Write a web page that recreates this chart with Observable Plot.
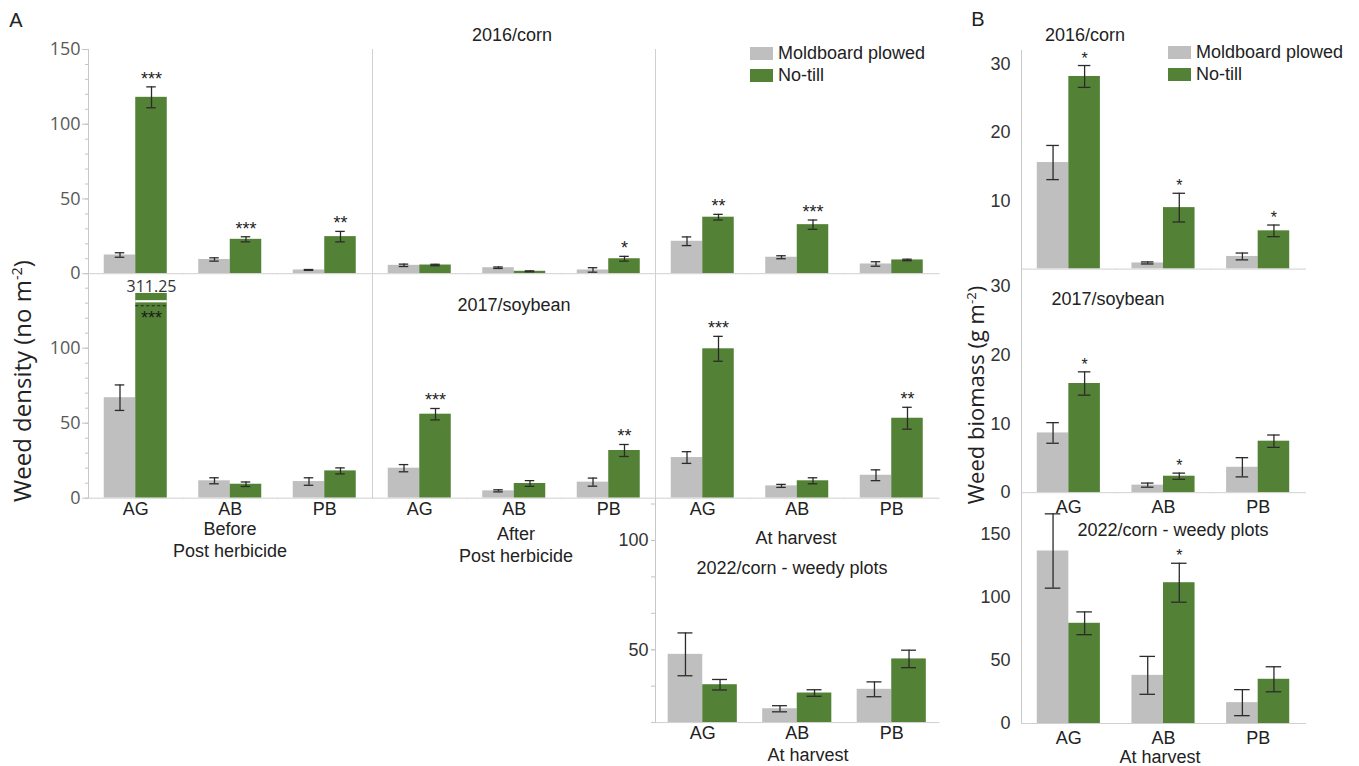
<!DOCTYPE html>
<html>
<head>
<meta charset="utf-8">
<script src="https://cdn.jsdelivr.net/npm/d3@7"></script>
<script src="https://cdn.jsdelivr.net/npm/@observablehq/plot@0.6"></script>
<style>
  body { margin: 0; background: #fff; }
  #fig { position: relative; width: 1359px; height: 766px; overflow: hidden;
         font-family: "Liberation Sans", Arial, sans-serif; color: #222; background: #fff; }
  #fig > * { position: absolute; }
  .lbl { white-space: nowrap; transform: translate(-50%, -50%); font-size: 18px;
         line-height: 22px; text-align: center; }
  .ylab { white-space: nowrap; font-family: "Open Sans", sans-serif;
          transform: translate(-50%, -50%) rotate(-90deg); }
  .ylab sup { font-size: 0.6em; }
  .lg-swatch svg { margin-right: 5px !important; }
</style>
</head>
<body>
<div id="fig"></div>
<script>
// Categories, treatments and colours
const categories = ["AG", "AB", "PB"];
const tillages = ["Moldboard plowed", "No-till"];
const tillageColors = ["#bfbfbf", "#538135"];

// Weed density (no m-2), 2016 corn: means and standard errors for AG, AB, PB
const d16BeforeMP = [12.5, 9.5, 2.5];
const d16BeforeMPse = [1.5, 1.1, 0.3];
const d16BeforeNT = [118, 23, 24.8];
const d16BeforeNTse = [7, 1.7, 3.5];
const d16BeforeSig = ["***", "***", "**"];

const d16AfterMP = [5.6, 4.0, 2.5];
const d16AfterMPse = [0.8, 0.5, 1.5];
const d16AfterNT = [5.8, 1.6, 10];
const d16AfterNTse = [0.5, 0.3, 1.6];
const d16AfterSig = ["", "", "*"];

const d16HarvestMP = [21.7, 11, 6.5];
const d16HarvestMPse = [2.9, 1, 1.5];
const d16HarvestNT = [37.8, 32.8, 9.2];
const d16HarvestNTse = [1.9, 3.1, 0.5];
const d16HarvestSig = ["**", "***", ""];

// Weed density (no m-2), 2017 soybean
const d17BeforeMP = [67, 11.6, 11.1];
const d17BeforeMPse = [8.5, 2, 2.5];
const d17BeforeNT = [311.25, 9.3, 18.2];
const d17BeforeNTse = [null, 1.5, 2];
const d17BeforeSig = ["***", "", ""];

const d17AfterMP = [20, 4.9, 10.7];
const d17AfterMPse = [2.4, 0.7, 2.7];
const d17AfterNT = [56, 9.8, 31.8];
const d17AfterNTse = [3.8, 1.9, 4];
const d17AfterSig = ["***", "", "**"];

const d17HarvestMP = [27.1, 8.2, 15.3];
const d17HarvestMPse = [3.9, 1, 3.6];
const d17HarvestNT = [99.6, 11.6, 53.3];
const d17HarvestNTse = [8.3, 2, 7.3];
const d17HarvestSig = ["***", "", "**"];

// Weed density (no m-2), 2022 corn weedy plots at harvest
const d22MP = [47.9, 23.0, 31.9];
const d22MPse = [9.8, 1.4, 3.4];
const d22NT = [34.0, 30.2, 45.8];
const d22NTse = [2.4, 1.5, 4.0];

// Weed biomass (g m-2)
const b16MP = [15.6, 0.9, 1.85];
const b16MPse = [2.5, 0.15, 0.5];
const b16NT = [28.2, 9.0, 5.6];
const b16NTse = [1.6, 2.1, 0.85];
const b16Sig = ["*", "*", "*"];

const b17MP = [8.7, 1.1, 3.7];
const b17MPse = [1.5, 0.3, 1.4];
const b17NT = [15.9, 2.4, 7.5];
const b17NTse = [1.7, 0.45, 0.9];
const b17Sig = ["*", "*", ""];

const b22MP = [136.5, 38.1, 16.5];
const b22MPse = [29.4, 15, 10.3];
const b22NT = [79.3, 111.4, 35];
const b22NTse = [9, 15.4, 9.9];
const b22Sig = ["", "*", ""];

// Axis ticks
const densityTicks2016 = [0, 50, 100, 150];
const densityMinor2016 = [0, 10, 20, 30, 40, 50, 60, 70, 80, 90, 100, 110, 120, 130, 140, 150];
const densityTicks2017 = [0, 50, 100];
const densityMinor2017 = [0, 10, 20, 30, 40, 50, 60, 70, 80, 90, 100, 110, 120, 130, 140];
const densityTicks2022 = [50, 100];
const densityMinor2022 = [16.67, 33.33, 50, 66.67, 83.33, 100, 116.67];
const biomassTicks2016 = [10, 20, 30];
const biomassTicks2017 = [0, 10, 20, 30];
const biomassTicks2022 = [0, 50, 100, 150];

// The 2017 AG no-till bar is drawn with a broken axis
const breakCap = 136.5;
const breakGapAt = 131.3;
const breakDashAt = 128.3;

const fig = document.getElementById("fig");

function rows(mp, mpSe, nt, ntSe, sig = []) {
  return categories.flatMap((c, i) => [
    {category: c, tillage: tillages[0], value: mp[i], se: mpSe[i], sig: ""},
    {category: c, tillage: tillages[1], value: nt[i], se: ntSe[i], sig: sig[i] ?? ""}
  ]);
}

function place(node, x, y) {
  node.style.position = "absolute";
  node.style.left = `${x}px`;
  node.style.top = `${y}px`;
  fig.appendChild(node);
}

function label(html, x, y, cls = "lbl", style = "") {
  const div = document.createElement("div");
  div.className = cls;
  div.innerHTML = html;
  div.style.cssText = style;
  place(div, x, y);
}

const M = {left: 70, right: 14, top: 40, bottom: 45};
const sansA = "'Open Sans', 'Noto Sans', sans-serif";
const sansB = "'Liberation Sans', Arial, sans-serif";

// vertical axis line, drawn once on the left edge of the leftmost facet
const axisLine = (stroke = "#c8c8c8") => Plot.frame({anchor: "left", facetAnchor: "left", stroke});

function densityAxis(major, minor) {
  return [
    axisLine(),
    Plot.axisY({ticks: minor, tickSize: 3, tickFormat: () => "", stroke: "#c4c4c4", label: null}),
    Plot.axisY({ticks: major, tickSize: 6, tickPadding: 2, stroke: "#c4c4c4",
                fill: "#595959", fontSize: 18, fontFamily: sansA, label: null})
  ];
}
function density2022Axis() {
  return [
    axisLine(),
    Plot.axisY({ticks: densityMinor2022, tickSize: 4, tickFormat: () => "", stroke: "#c4c4c4", label: null}),
    Plot.axisY({ticks: densityTicks2022, tickSize: 4, tickPadding: 3, stroke: "#c4c4c4",
                fill: "#333", fontSize: 18, fontFamily: sansB, label: null})
  ];
}
const separator = () => [axisLine("#d0d0d0")];
function biomassAxis(major) {
  return [
    axisLine(),
    Plot.axisY({ticks: major, tickSize: 0, tickPadding: 11,
                fill: "#333", fontSize: 18, fontFamily: sansB, label: null})
  ];
}

function barPanel({data, left, right, top, bottom, yDomain, axes = [], yCap = Infinity,
                   paddingOuter = 0.5, capInset = 11, starSize = 18, starDy = -8,
                   xLabels = false, labelPad = 4}) {
  const shown = data.filter(d => d.value <= yCap);
  const errs = shown.filter(d => d.se != null);
  const broken = data.filter(d => d.value > yCap);
  const pos = {fx: "category", x: "tillage"};
  const ebar = {...pos, stroke: "#2b2b2b", strokeWidth: 1.3};
  const svg = Plot.plot({
    width: right - left + M.left + M.right,
    height: bottom - top + M.top + M.bottom,
    marginLeft: M.left, marginRight: M.right, marginTop: M.top, marginBottom: M.bottom,
    fx: {domain: categories, padding: 0, round: false, axis: null, label: null},
    x: {domain: tillages, paddingInner: 0, paddingOuter, round: false, axis: null},
    y: {domain: yDomain, axis: null},
    color: {domain: tillages, range: tillageColors},
    style: {background: "transparent", overflow: "visible", fontFamily: sansB, color: "#222"},
    marks: [
      ...axes,
      Plot.frame({anchor: "bottom", stroke: "#d0d0d0"}),
      Plot.barY(data, {...pos, y: d => Math.min(d.value, yCap), fill: "tillage", clip: true}),
      Plot.ruleX(errs, {...ebar, y1: d => d.value - d.se, y2: d => d.value + d.se}),
      Plot.tickY(errs, {...ebar, y: d => d.value + d.se, insetLeft: capInset, insetRight: capInset}),
      Plot.tickY(errs, {...ebar, y: d => d.value - d.se, insetLeft: capInset, insetRight: capInset}),
      Plot.text(shown.filter(d => d.sig), {...pos, y: d => d.value + d.se, text: "sig", dy: starDy,
                                           fontSize: starSize, fill: "#222"}),
      // broken bar: gap, dashed break line, value label and significance inside the bar
      Plot.tickY(broken, {...pos, y: () => breakGapAt, stroke: "white", strokeWidth: 2.2}),
      Plot.tickY(broken, {...pos, y: () => breakDashAt, stroke: "#222", strokeWidth: 1.1, strokeDasharray: "3,2.5"}),
      Plot.text(broken, {...pos, y: () => yCap, text: d => d.value.toFixed(2), dy: -7,
                         fontFamily: sansA, fontSize: 16, fill: "#333"}),
      Plot.text(broken.filter(d => d.sig), {...pos, y: () => yCap, text: "sig", dy: 24.5,
                                            fontSize: starSize, fill: "#1a1a1a"}),
      xLabels ? Plot.axisFx({anchor: "bottom", tickSize: 0, tickPadding: labelPad, fontSize: 18,
                             fontFamily: sansB, fill: "#222", label: null}) : null
    ]
  });
  place(svg, left - M.left, top - M.top);
}

function legend(x, y) {
  const lg = Plot.legend({
    color: {type: "ordinal", domain: tillages, range: tillageColors, legend: "swatches"},
    columns: 1, swatchWidth: 23, swatchHeight: 13, className: "lg",
    style: {fontSize: "18px", fontFamily: sansB, color: "#222", background: "transparent"}
  });
  place(lg, x, y);
}

// ---- A: weed density ----
const rowA1 = {top: 48.6, bottom: 272.8, yDomain: [0, 150]};
barPanel({...rowA1, left: 88, right: 371.5, data: rows(d16BeforeMP, d16BeforeMPse, d16BeforeNT, d16BeforeNTse, d16BeforeSig),
          axes: densityAxis(densityTicks2016, densityMinor2016)});
barPanel({...rowA1, left: 371.5, right: 655, data: rows(d16AfterMP, d16AfterMPse, d16AfterNT, d16AfterNTse, d16AfterSig),
          axes: separator()});
barPanel({...rowA1, left: 655, right: 938.5, data: rows(d16HarvestMP, d16HarvestMPse, d16HarvestNT, d16HarvestNTse, d16HarvestSig),
          axes: separator()});

const rowA2 = {top: 272.8, bottom: 497.5, yDomain: [0, 149.8], xLabels: true, labelPad: 4};
barPanel({...rowA2, left: 88, right: 371.5, yCap: breakCap,
          data: rows(d17BeforeMP, d17BeforeMPse, d17BeforeNT, d17BeforeNTse, d17BeforeSig),
          axes: densityAxis(densityTicks2017, densityMinor2017)});
barPanel({...rowA2, left: 371.5, right: 655, data: rows(d17AfterMP, d17AfterMPse, d17AfterNT, d17AfterNTse, d17AfterSig),
          axes: separator()});
barPanel({...rowA2, left: 655, right: 938.5, data: rows(d17HarvestMP, d17HarvestMPse, d17HarvestNT, d17HarvestNTse, d17HarvestSig),
          axes: separator()});

barPanel({left: 655, right: 938.5, top: 497.5, bottom: 721.6, yDomain: [16.67, 119.2],
          paddingOuter: 0.367, capInset: 9.8, xLabels: true, labelPad: 4,
          data: rows(d22MP, d22MPse, d22NT, d22NTse), axes: density2022Axis()});

// ---- B: weed biomass ----
const colB = {left: 1021, right: 1305, capInset: 9.5, starSize: 16, starDy: -7};
barPanel({...colB, top: 49.7, bottom: 268.3, yDomain: [0, 32],
          data: rows(b16MP, b16MPse, b16NT, b16NTse, b16Sig), axes: biomassAxis(biomassTicks2016)});
barPanel({...colB, top: 268.3, bottom: 492.5, yDomain: [0, 32.65], xLabels: true, labelPad: 8,
          data: rows(b17MP, b17MPse, b17NT, b17NTse, b17Sig), axes: biomassAxis(biomassTicks2017)});
barPanel({...colB, top: 492.5, bottom: 722.5, yDomain: [0, 182], capInset: 8, xLabels: true, labelPad: 8,
          data: rows(b22MP, b22MPse, b22NT, b22NTse, b22Sig), axes: biomassAxis(biomassTicks2022)});

// ---- legends ----
legend(750, 42.5);
legend(1168, 42);

// ---- panel letters, titles and captions ----
label("A", 16, 20, "lbl", "font-size:20px");
label("B", 978, 19, "lbl", "font-size:20px");
label("2016/corn", 512, 35);
label("2017/soybean", 514, 305);
label("Before<br>Post herbicide", 230, 540);
label("After<br>Post herbicide", 516, 545);
label("At harvest", 796, 538);
label("2022/corn - weedy plots", 792, 568);
label("At harvest", 808, 755);
label("2016/corn", 1085, 35);
label("2017/soybean", 1108, 299);
label("2022/corn - weedy plots", 1173, 530);
label("At harvest", 1160, 757);
label("Weed density (no m<sup>-2</sup>)", 21, 381, "ylab", "font-size:24px");
label("Weed biomass (g m<sup>-2</sup>)", 975, 395, "ylab", "font-size:22px");
</script>
</body>
</html>
